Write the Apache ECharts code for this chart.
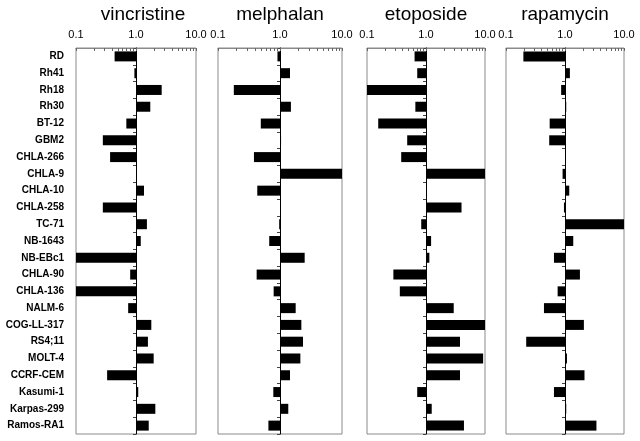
<!DOCTYPE html>
<html>
<head>
<meta charset="utf-8">
<script src="https://cdn.jsdelivr.net/npm/echarts@6/dist/echarts.min.js"></script>
<style>
html,body{margin:0;padding:0;background:#fff;}
#chart{width:640px;height:441px;}
</style>
</head>
<body>
<div id="chart"></div>
<script>
const categories = ['RD','Rh41','Rh18','Rh30','BT-12','GBM2','CHLA-266','CHLA-9','CHLA-10','CHLA-258','TC-71','NB-1643','NB-EBc1','CHLA-90','CHLA-136','NALM-6','COG-LL-317','RS4;11','MOLT-4','CCRF-CEM','Kasumi-1','Karpas-299','Ramos-RA1'];
const drugNames = ['vincristine','melphalan','etoposide','rapamycin'];
const vincristine = [0.44,0.94,2.68,1.73,0.69,0.28,0.37,1.0,1.36,0.28,1.52,1.2,0.1,0.8,0.1,0.74,1.8,1.58,1.97,0.33,1.09,2.1,1.63];
const melphalan   = [0.91,1.45,0.18,1.5,0.49,1.04,0.38,10,0.43,1.0,0.97,0.67,2.5,0.42,0.79,1.79,2.21,2.35,2.13,1.45,0.78,1.36,0.65];
const etoposide   = [0.64,0.71,0.1,0.66,0.155,0.48,0.38,10,1.0,4.0,0.83,1.22,1.14,0.28,0.36,2.95,10,3.77,9.3,3.77,0.71,1.25,4.4];
const rapamycin   = [0.197,1.21,0.86,1.05,0.55,0.54,1.04,0.91,1.18,0.96,10,1.38,0.65,1.79,0.75,0.44,2.09,0.22,1.08,2.14,0.65,1.05,3.41];
const tickValues = [0.1,0.2,0.3,0.4,0.5,0.6,0.7,0.8,0.9,1,2,3,4,5,6,7,8,9,10];
const labelValues = [0.1,1,10];

const seriesData = [vincristine, melphalan, etoposide, rapamycin];
const gridLefts = [76, 218, 367, 506];
const gridWidths = [120, 124, 118, 118];
const gridTop = 47, gridBottom = 7;

const font = 'Liberation Sans, Arial, sans-serif';
const grids = [], xAxes = [], yAxes = [], series = [];
drugNames.forEach((name, i) => {
  grids.push({left: gridLefts[i], width: gridWidths[i], top: gridTop, bottom: gridBottom,
    show: true, borderColor: '#8a8a8a', borderWidth: 1, containLabel: false});
  xAxes.push({
    gridIndex: i, type: 'log', logBase: 10, min: 0.1, max: 10, position: 'top',
    name: name, nameLocation: 'middle', nameGap: 24,
    nameTextStyle: {fontFamily: font, fontSize: 19, color: '#000', padding: i === 0 ? [0,0,0,14] : 0},
    axisLine: {show: true, lineStyle: {color: '#8a8a8a', width: 1}},
    axisTick: {show: true, inside: true, length: 3, customValues: tickValues, lineStyle: {color: '#666'}},
    axisLabel: {show: true, customValues: labelValues, fontFamily: font, fontSize: 11, color: '#000', margin: 8,
      showMinLabel: true, showMaxLabel: true, formatter: v => Number(v).toFixed(1)},
    splitLine: {show: false}
  });
  yAxes.push({
    gridIndex: i, type: 'category', data: categories, inverse: true,
    axisLine: {show: false, onZero: false}, axisTick: {show: false},
    axisLabel: {show: i === 0, fontFamily: font, fontSize: 10, fontWeight: 'bold', color: '#000', margin: 12},
    splitLine: {show: false}
  });
  yAxes.push({
    gridIndex: i, type: 'category', data: categories, inverse: true, position: 'left',
    offset: -gridWidths[i] / 2,
    axisLine: {show: true, onZero: false, lineStyle: {color: '#000', width: 1}},
    axisTick: {show: true, length: 3, lineStyle: {color: '#444'}},
    axisLabel: {show: false}, splitLine: {show: false}
  });
  series.push({
    type: 'bar', xAxisIndex: i, yAxisIndex: i * 2, data: seriesData[i],
    barWidth: 10, itemStyle: {color: '#000'}, silent: true, animation: false
  });
});

const chart = echarts.init(document.getElementById('chart'), null, {renderer: 'canvas'});
chart.setOption({
  backgroundColor: '#fff', animation: false,
  grid: grids, xAxis: xAxes, yAxis: yAxes, series: series
});
</script>
</body>
</html>
